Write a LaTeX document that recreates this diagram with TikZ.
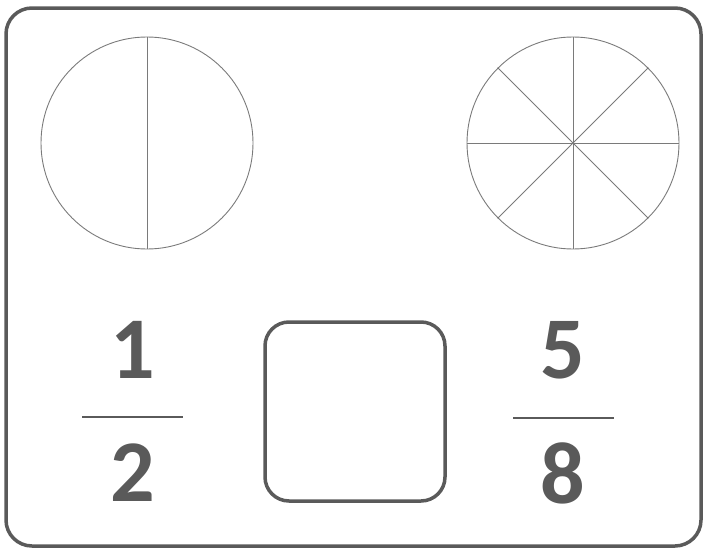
\documentclass[tikz,border=0pt]{standalone}
\usepackage{fontspec}
\setmainfont{Carlito}
\usepackage{tikz}
\usetikzlibrary{positioning}

\definecolor{inkgray}{HTML}{5A5A5A}
\definecolor{pengray}{HTML}{7A7A7A}

\begin{document}
\begin{tikzpicture}[
  x=1pt, y=-1pt,
  frame/.style={draw=inkgray, line width=3.5pt, rounded corners=26pt},
  pie/.style={draw=pengray, line width=0.9pt, circle, minimum size=212pt, inner sep=0pt},
  slice/.style={draw=pengray, line width=0.9pt},
  digit/.style={text=inkgray, font=\fontsize{88}{90}\selectfont\bfseries, inner sep=0pt},
  bar/.style={draw=inkgray, line width=2.6pt}
]
\useasboundingbox (0,0) rectangle (706,549);
\draw[frame] (6,8) rectangle (701,546);

% pies
\node[pie] (half) at (147,143) {};
\node[pie] (eighth) at (573,143) {};
\draw[slice] (half.north) -- (half.south);
\draw[slice] (eighth.north) -- (eighth.south);
\draw[slice] (eighth.west) -- (eighth.east);
\draw[slice] (eighth.north west) -- (eighth.south east);
\draw[slice] (eighth.north east) -- (eighth.south west);

% fractions
\node[digit] (numa) at (133,350) {1};
\node[digit] (dena) at (133,473) {2};
\coordinate (bara) at (82,417);
\coordinate (barb) at (183,417);
\draw[bar] (bara) -- (barb);

\node[digit] (numb) at (563,350) {5};
\node[digit] (denb) at (563,473) {8};
\coordinate (barc) at (513,418);
\coordinate (bard) at (614,418);
\draw[bar] (barc) -- (bard);

% answer box
\draw[frame, rounded corners=24pt] (265,322) rectangle (445,501);
\end{tikzpicture}
\end{document}
